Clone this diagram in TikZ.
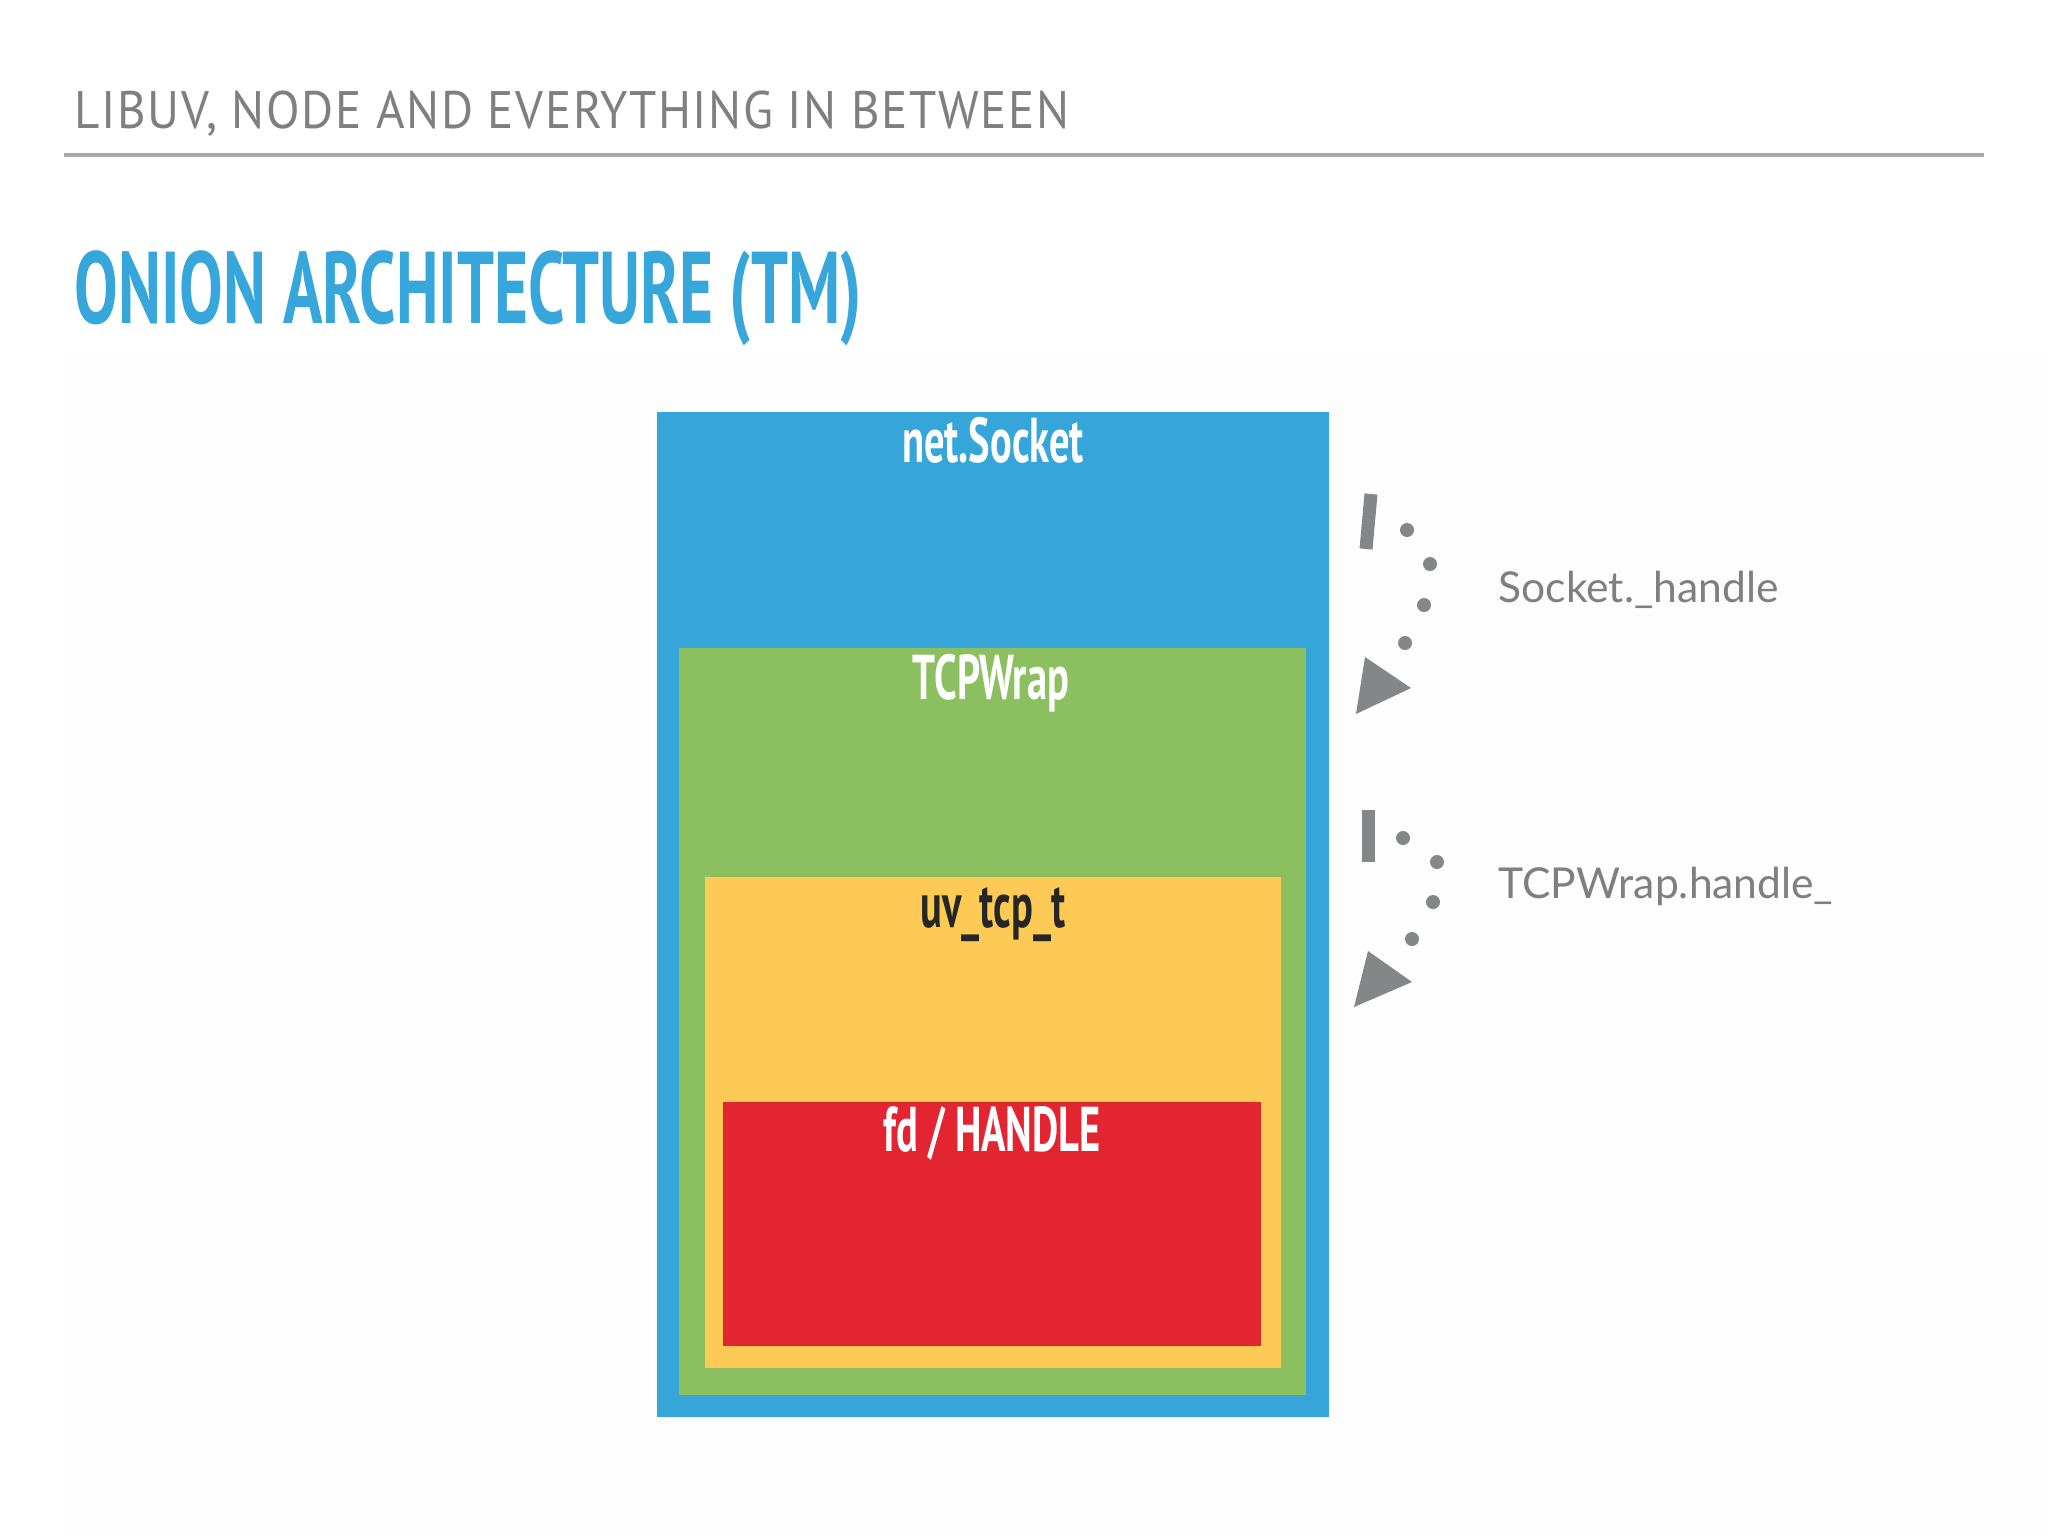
\documentclass[tikz,border=0pt]{standalone}
\usepackage{fontspec}
\setmainfont{Lato}
\newfontfamily\dinfont[FakeStretch=0.93]{PT Sans}
\newfontfamily\dincond[FakeStretch=0.64]{PT Sans}
\newfontfamily\labelfont{Lato}
\usetikzlibrary{positioning}

\definecolor{socketblue}{HTML}{36A5DA}
\definecolor{wrapgreen}{HTML}{8BBF5F}
\definecolor{uvyellow}{HTML}{FCCA55}
\definecolor{handlered}{HTML}{E32532}
\definecolor{titleblue}{HTML}{37A6DA}
\definecolor{headgray}{HTML}{7F7F7F}
\definecolor{rulegray}{HTML}{ABABAB}
\definecolor{markgray}{HTML}{858687}

\begin{document}
\begin{tikzpicture}[
  x=0.01cm, y=-0.01cm,
  layer/.style={rectangle, inner sep=0pt, anchor=north west},
  layername/.style={anchor=base, inner sep=0pt, font=\dincond\bfseries\fontsize{18}{21}\selectfont},
  fieldname/.style={anchor=base west, inner sep=0pt, text=headgray, font=\labelfont\fontsize{12.1}{15}\selectfont},
  pointer/.style={fill=markgray}
]
  \useasboundingbox (0,0) rectangle (2048,1536);
  \fill[white] (0,0) rectangle (2048,1536);
  \fill[black!0.8] (64,352) rectangle (2048,1536);

  % slide header
  \node[anchor=base west, inner sep=0pt, text=headgray, font=\dinfont\fontsize{15}{18}\selectfont] (header) at (74,128)
    {\addfontfeature{LetterSpace=3}LIBUV, NODE AND EVERYTHING IN BETWEEN};
  \draw[rulegray, line width=0.04cm] (64,155) -- (1984,155);
  \node[anchor=base west, inner sep=0pt, text=titleblue, font=\dincond\bfseries\fontsize{29}{34}\selectfont] (title) at (74,323)
    {ONION ARCHITECTURE (TM)};

  % the layers
  \node[layer, fill=socketblue, minimum width=6.72cm, minimum height=10.05cm] (socket) at (656,411) {};
  \node[layer, fill=wrapgreen,  minimum width=6.27cm, minimum height=7.47cm]  (wrap)   at (678,647) {};
  \node[layer, fill=uvyellow,   minimum width=5.76cm, minimum height=4.91cm]  (uvtcp)  at (704,876) {};
  \node[layer, fill=handlered,  minimum width=5.38cm, minimum height=2.44cm]  (fd)     at (722,1101) {};

  \node[layername, text=white] (socketname) at (993,462)  {net.Socket};
  \node[layername, text=white] (wrapname)   at (991,699)  {TCPWrap};
  \node[layername, text=black!85] (uvname)  at (993,927)  {uv\_tcp\_t};
  \node[layername, text=white] (fdname)     at (992,1151) {fd / HANDLE};

  % pointers
  \draw[markgray, line width=0.13cm] (1371,494) -- (1366,549);
  \foreach \p in {(1407,530), (1430,564), (1424,605), (1405,643)}
    \fill[markgray] \p circle (7);
  \fill[pointer] (1365,657) -- (1411,688) -- (1356,714) -- cycle;

  \draw[markgray, line width=0.13cm] (1368,810) -- (1368,862);
  \foreach \p in {(1403,838), (1437,862), (1433,902), (1412,939)}
    \fill[markgray] \p circle (7);
  \fill[pointer] (1368,951) -- (1412,982) -- (1354,1007) -- cycle;

  \node[fieldname] (sockethandle) at (1498,602) {Socket.\_handle};
  \node[fieldname] (wraphandle)   at (1498,898) {TCPWrap.handle\_};
\end{tikzpicture}
\end{document}
